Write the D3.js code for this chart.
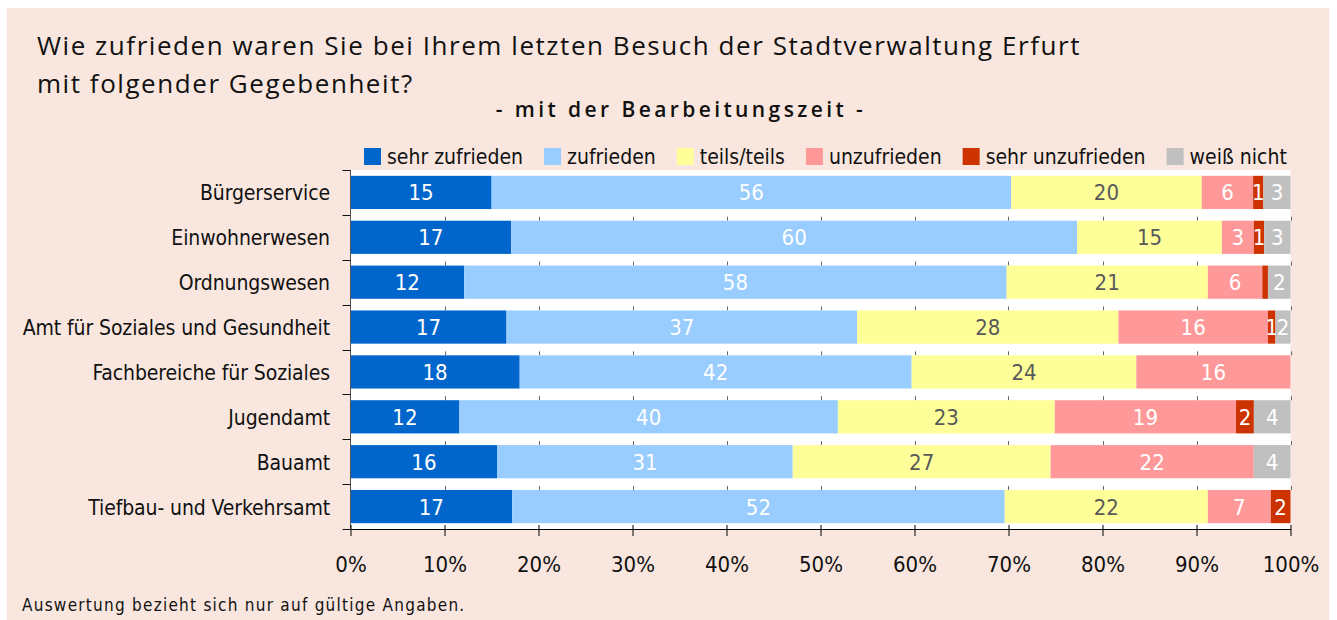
<!DOCTYPE html>
<html>
<head>
<meta charset="utf-8">
<script src="https://cdn.jsdelivr.net/npm/d3@7"></script>
<style>
  body { margin: 0; background: #fff; }
  svg text { font-family: "Liberation Sans Narrow", "DejaVu Sans Condensed", "Roboto", sans-serif; }
  .title { font-family: "Open Sans", "Noto Sans", sans-serif !important; }
</style>
</head>
<body>
<div id="chart"></div>
<script>
var categories = ["Bürgerservice", "Einwohnerwesen", "Ordnungswesen", "Amt für Soziales und Gesundheit",
                  "Fachbereiche für Soziales", "Jugendamt", "Bauamt", "Tiefbau- und Verkehrsamt"];
var keys = ["sehr zufrieden", "zufrieden", "teils/teils", "unzufrieden", "sehr unzufrieden", "weiß nicht"];
var colors = ["#0066cc", "#99ccff", "#ffff99", "#ff9999", "#cc3300", "#c0c0c0"];
var labelColors = ["#fff", "#fff", "#595959", "#fff", "#fff", "#fff"];

// percentages per category
var sehrZufrieden   = [15.1, 17.1, 12.1, 16.6, 18.0, 11.6, 15.6, 17.2];
var zufrieden       = [55.6, 60.2, 57.7, 37.3, 41.7, 40.3, 31.4, 52.4];
var teilsTeils      = [20.4, 15.4, 21.4, 27.8, 23.9, 23.1, 27.4, 21.6];
var unzufrieden     = [5.5, 3.4, 5.8, 15.9, 16.4, 19.3, 21.6, 6.7];
var sehrUnzufrieden = [1.1, 1.1, 0.6, 0.8, 0, 1.9, 0, 2.1];
var weissNicht      = [2.9, 2.8, 2.4, 1.6, 0, 3.9, 3.9, 0];

var xTicks = [0, 0.1, 0.2, 0.3, 0.4, 0.5, 0.6, 0.7, 0.8, 0.9, 1];

var W = 1337, H = 620;
var plot = {left: 350.5, right: 1290.5, top: 170, bottom: 529};

var series = [sehrZufrieden, zufrieden, teilsTeils, unzufrieden, sehrUnzufrieden, weissNicht];
var data = categories.map(function(c, i) {
    var row = {cat: c};
    keys.forEach(function(k, j) { row[k] = series[j][i]; });
    return row;
});

var stacked = d3.stack().keys(keys).offset(d3.stackOffsetExpand)(data);

var x = d3.scaleLinear().domain([0, 1]).range([plot.left, plot.right]);
var y = d3.scaleBand().domain(categories).range([plot.top, plot.bottom]).paddingInner(0.26).paddingOuter(0.13);

var svg = d3.select("#chart").append("svg")
    .attr("width", W)
    .attr("height", H);

svg.append("rect")
    .attr("x", 7).attr("y", 8)
    .attr("width", 1322).attr("height", 612)
    .attr("fill", "#f9e7df");

// title
svg.append("text").attr("class", "title")
    .attr("x", 37).attr("y", 55)
    .style("font-size", "26px").style("letter-spacing", "1.55px").attr("fill", "#111")
    .text("Wie zufrieden waren Sie bei Ihrem letzten Besuch der Stadtverwaltung Erfurt");
svg.append("text").attr("class", "title")
    .attr("x", 37).attr("y", 93)
    .style("font-size", "26px").style("letter-spacing", "1.55px").attr("fill", "#111")
    .text("mit folgender Gegebenheit?");
svg.append("text").attr("class", "title")
    .attr("x", 681).attr("y", 117)
    .attr("text-anchor", "middle")
    .style("font-size", "21px").style("letter-spacing", "3.4px").style("font-weight", "600").attr("fill", "#111")
    .text("- mit der Bearbeitungszeit -");

// legend
var legend = svg.append("g").attr("class", "legend");
var lx = 364;
keys.forEach(function(k, j) {
    var g = legend.append("g").attr("transform", "translate(" + lx + ",0)");
    g.append("rect").attr("x", 0).attr("y", 148).attr("width", 17).attr("height", 17).attr("fill", colors[j]);
    var t = g.append("text").attr("x", 23).attr("y", 164)
        .style("font-size", "21px").attr("fill", "#111").text(k);
    lx += 23 + t.node().getComputedTextLength() + 21;
});

// plot area
svg.append("rect")
    .attr("x", plot.left).attr("y", plot.top)
    .attr("width", plot.right - plot.left).attr("height", plot.bottom - plot.top)
    .attr("fill", "#fff");

// little tick stubs above each bar (except the first)
var stubs = svg.append("g").attr("class", "stubs");
categories.slice(1).forEach(function(c) {
    stubs.selectAll(null).data(xTicks.slice(1)).enter().append("line")
        .attr("x1", function(d) { return Math.round(x(d)) + 0.5; })
        .attr("x2", function(d) { return Math.round(x(d)) + 0.5; })
        .attr("y1", y(c) - 4).attr("y2", y(c))
        .attr("stroke", "#666");
});

var layer = svg.selectAll("g.layer").data(stacked).enter().append("g")
    .attr("class", "layer")
    .attr("fill", function(d, j) { return colors[j]; });

layer.selectAll("rect").data(function(d) { return d; }).enter().append("rect")
    .attr("x", function(d) { return x(d[0]); })
    .attr("y", function(d) { return y(d.data.cat); })
    .attr("width", function(d) { return x(d[1]) - x(d[0]); })
    .attr("height", y.bandwidth());

layer.each(function(s, j) {
    d3.select(this).selectAll("text").data(s.filter(function(d) { return d.data[s.key] >= 0.7; }))
        .enter().append("text")
        .attr("x", function(d) { return (x(d[0]) + x(d[1])) / 2; })
        .attr("y", function(d) { return y(d.data.cat) + y.bandwidth() / 2 + 8; })
        .attr("text-anchor", "middle")
        .attr("fill", labelColors[j])
        .style("font-size", "22px")
        .text(function(d) { return Math.round(d.data[s.key]); });
});

// category axis
var yAxis = svg.append("g").attr("class", "y axis");
yAxis.append("line")
    .attr("x1", plot.left).attr("x2", plot.left)
    .attr("y1", plot.top).attr("y2", plot.bottom)
    .attr("stroke", "#555");
var bounds = categories.map(function(c) { return y(c) - y.step() * y.paddingInner() / 2; }).concat([plot.bottom]);
bounds[0] = plot.top;
yAxis.selectAll("line.tick").data(bounds).enter().append("line")
    .attr("class", "tick")
    .attr("x1", plot.left - 8).attr("x2", plot.left)
    .attr("y1", function(d) { return Math.round(d) + 0.5; })
    .attr("y2", function(d) { return Math.round(d) + 0.5; })
    .attr("stroke", "#111");
yAxis.selectAll("text").data(categories).enter().append("text")
    .attr("x", 330)
    .attr("y", function(c) { return y(c) + y.bandwidth() / 2 + 8; })
    .attr("text-anchor", "end")
    .style("font-size", "21px")
    .style("letter-spacing", "-0.1px")
    .attr("fill", "#111")
    .text(function(c) { return c; });

// percent axis
var xAxis = d3.axisBottom(x)
    .tickValues(xTicks)
    .tickFormat(d3.format(".0%"))
    .tickSizeInner(7)
    .tickSizeOuter(0)
    .tickPadding(20);

var gx = svg.append("g").attr("class", "x axis")
    .attr("transform", "translate(0," + plot.bottom + ")")
    .call(xAxis);
gx.select(".domain").attr("stroke", "#000");
gx.selectAll(".tick line").attr("y1", -4).attr("stroke", "#000");
gx.selectAll(".tick text")
    .style("font-size", "22px")
    .style("font-family", "\"Liberation Sans Narrow\", \"DejaVu Sans Condensed\", sans-serif")
    .attr("fill", "#111");

// footnote
svg.append("text")
    .attr("x", 22).attr("y", 611)
    .style("font-size", "17px").style("letter-spacing", "1.25px")
    .attr("fill", "#111")
    .text("Auswertung bezieht sich nur auf gültige Angaben.");
</script>
</body>
</html>
